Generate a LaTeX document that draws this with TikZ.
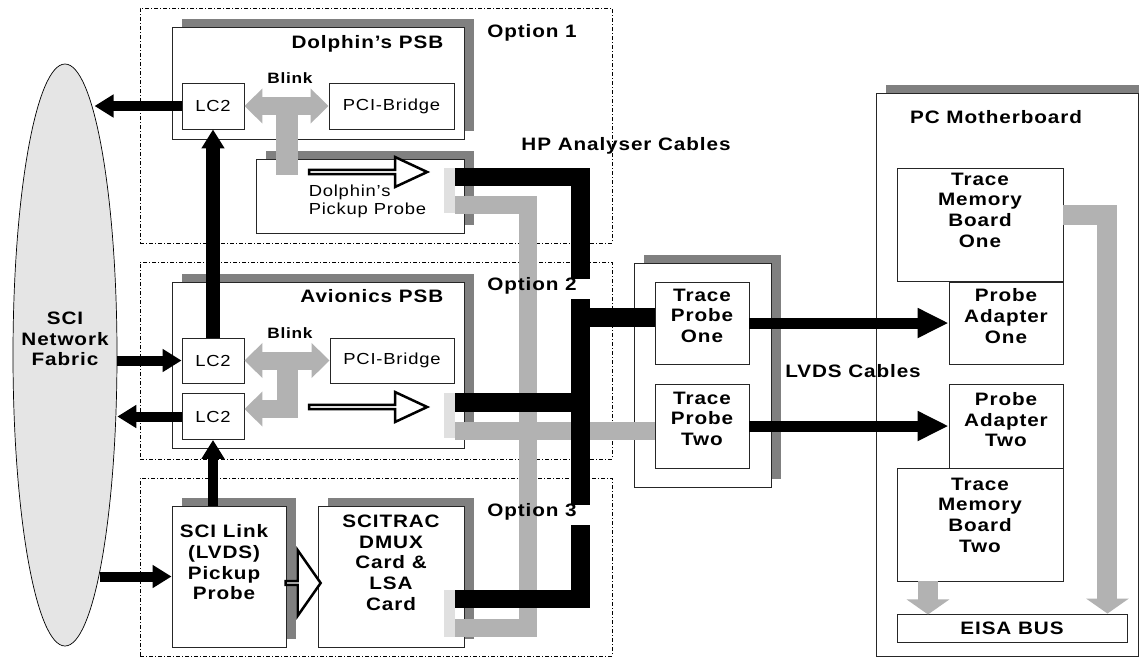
\documentclass[tikz,border=0pt]{standalone}
\usepackage{fontspec}
\setmainfont{Liberation Sans}[FakeStretch=1.15,LetterSpace=5]
\usepackage{tikz}
\usetikzlibrary{positioning,arrows.meta,shapes.geometric,shapes.arrows,shadows}

\begin{document}
\begin{tikzpicture}[
  x=1pt, y=-1pt,
  region/.style={draw, line width=0.7pt, dash pattern=on 4pt off 2pt on 1pt off 2pt, inner sep=0pt},
  board/.style={draw=black!85, fill=white, line width=0.9pt, inner sep=0pt,
    drop shadow={shadow xshift=10pt, shadow yshift=8pt, fill=black!50, opacity=1}},
  part/.style={draw=black!85, fill=white, line width=0.9pt, inner sep=0pt, font=\fontsize{16}{18}\selectfont},
  title/.style={inner sep=0pt, align=center, font=\fontsize{18}{20.7}\selectfont\bfseries},
  tag/.style={inner sep=0pt, font=\fontsize{15}{17}\selectfont\bfseries},
  plain/.style={inner sep=0pt, font=\fontsize{16}{18}\selectfont},
  stub/.style={fill=black!12, inner sep=0pt, minimum width=11pt},
  hollow/.style={single arrow, draw, fill=white, line width=2.5pt, inner sep=0pt},
  blink/.style={black!30, line width=18pt},
  blinktip/.tip={Triangle[length=18pt,width=34pt]},
  graycable/.style={black!30, line width=18pt, line join=miter},
  blackcable/.style={black, line width=18.5pt, line join=miter},
  fatarrow/.style={line width=10pt, -{Triangle[length=19pt,width=22pt]}},
  lvds/.style={line width=11pt, -{Triangle[length=31pt,width=28pt]}},
  pcarrow/.style={black!30, line width=20pt, line join=miter, -{Triangle[length=15pt,width=42pt]}},
]
\useasboundingbox (0,0) rectangle (1139,657);
% option regions
\node[region, minimum width=472pt, minimum height=235pt] (opt1) at (376,125.5) {};
\node[region, minimum width=472pt, minimum height=197pt] (opt2) at (376,360.5) {};
\node[region, minimum width=472pt, minimum height=178pt] (opt3) at (376,567) {};
% SCI network fabric
\node[ellipse, draw, fill=black!10, line width=0.7pt, inner sep=0pt,
  minimum width=104pt, minimum height=582pt] (sci) at (65,355) {};
\node[title] (scitext) at (65,339) {SCI\\Network\\Fabric};
% boards with shadow
\node[board, minimum width=292pt, minimum height=112pt] (dpsb) at (318,83) {};
\node[board, minimum width=208pt, minimum height=74pt] (dprobe) at (360,196) {};
\node[board, minimum width=292pt, minimum height=166pt] (apsb) at (318,365) {};
\node[board, minimum width=114pt, minimum height=141pt] (sciprobe) at (229,576.5) {};
\node[board, minimum width=146pt, minimum height=141pt] (scitrac) at (391,576.5) {};
\node[board, minimum width=137pt, minimum height=224pt] (tprobes) at (702.5,375) {};
\node[board, minimum width=262pt, minimum height=563pt] (pcmb) at (1007,374.5) {};
% parts
\node[part, minimum width=62pt, minimum height=46pt] (lc2d) at (213,106) {LC2};
\node[part, minimum width=125pt, minimum height=46pt] (pcid) at (391.5,106) {PCI-Bridge};
\node[part, minimum width=62pt, minimum height=45pt] (lc2a) at (213,360.5) {LC2};
\node[part, minimum width=62pt, minimum height=46pt] (lc2b) at (213,416.5) {LC2};
\node[part, minimum width=124pt, minimum height=45pt] (pcia) at (392,360.5) {PCI-Bridge};
\node[part, minimum width=94pt, minimum height=82pt] (tp1) at (702,323) {};
\node[part, minimum width=94pt, minimum height=84pt] (tp2) at (702,426) {};
\node[part, minimum width=166pt, minimum height=113pt] (tmb1) at (980,224.5) {};
\node[part, minimum width=114pt, minimum height=82pt] (pa1) at (1006,323) {};
\node[part, minimum width=114pt, minimum height=84pt] (pa2) at (1006,426) {};
\node[part, minimum width=166pt, minimum height=113pt] (tmb2) at (980,524.5) {};
\node[part, minimum width=230pt, minimum height=28pt,
  font=\fontsize{18}{20.7}\selectfont\bfseries] (eisa) at (1012,628) {EISA BUS};
% texts in the boxes
\node[title, below left=9pt and 21pt of dpsb.north east] (dpsbtitle) {Dolphin's PSB};
\node[title, below left=8pt and 21pt of apsb.north east] (apsbtitle) {Avionics PSB};
\node[title, below=19pt of sciprobe.north, xshift=-5pt] (sciprobetext) {SCI Link\\(LVDS)\\Pickup\\Probe};
\node[title, below=9pt of scitrac.north] (scitractext) {SCITRAC\\DMUX\\Card \&\\LSA\\Card};
\node[title, below=7pt of tp1.north] (tp1text) {Trace\\Probe\\One};
\node[title, below=8pt of tp2.north] (tp2text) {Trace\\Probe\\Two};
\node[title, below=5pt of tmb1.north] (tmb1text) {Trace\\Memory\\Board\\One};
\node[title, below=7pt of pa1.north] (pa1text) {Probe\\Adapter\\One};
\node[title, below=8.5pt of pa2.north] (pa2text) {Probe\\Adapter\\Two};
\node[title, below=10pt of tmb2.north] (tmb2text) {Trace\\Memory\\Board\\Two};
\node[title] (pcmbtitle) at (996,117) {PC Motherboard};
% blink buses
\coordinate (blinkdstem) at (287,106);
\coordinate (blinkdfoot) at (287,175);
\draw[blink, line width=22pt] (blinkdstem) -- (blinkdfoot);
\draw[blink, blinktip-blinktip] (lc2d.east) -- (pcid.west);
\node[tag] (blinkd) at (290,78) {Blink};
\coordinate (blinkastem) at (287,360.5);
\coordinate (blinkafoot) at (287,418);
\coordinate (blinkaturn) at (296,409);
\draw[blink, line width=21pt] (blinkastem) -- (blinkafoot);
\draw[blink, blinktip-blinktip] (lc2a.east) -- (pcia.west);
\draw[blink, -blinktip] (blinkaturn) -- (blinkaturn -| lc2b.east);
\node[tag] (blinka) at (290,333) {Blink};
% hollow arrows
\node[hollow, minimum height=118pt, minimum width=30pt, single arrow head extend=8pt,
  single arrow tip angle=50] (dprobearrow) at (366,172) {};
\node[hollow, minimum height=118pt, minimum width=30pt, single arrow head extend=8pt,
  single arrow tip angle=50] (aprobearrow) at (366,407) {};
\node[hollow, minimum height=35pt, minimum width=66pt, single arrow head extend=20.5pt,
  single arrow tip angle=110] (scilinkarrow) at (302.5,583) {};
\node[plain, align=left, below right=26pt and 53pt of dprobe.north west] (dprobetext) {Dolphin's\\Pickup Probe};
% connector stubs
\node[stub, minimum height=45pt] (stubd) at (449.5,190.5) {};
\node[stub, minimum height=45pt] (stuba) at (449.5,415.5) {};
\node[stub, minimum height=47pt] (stubs) at (449.5,613.5) {};
% HP analyser cables
\coordinate (grayturn) at (527.5,627.5);
\draw[graycable] ([yshift=-14.5pt]stubd.east) -| (grayturn) -- ([yshift=-14pt]stubs.east);
\draw[graycable] ([yshift=-15.5pt]stuba.east) -- ([yshift=-5pt]tp2.west);
\coordinate (bustop) at (580.5,279);
\coordinate (busmid) at (580.5,299);
\coordinate (buslow) at (580.5,505);
\coordinate (busbot) at (580.5,525);
\coordinate (tapone) at (580.5,317.5);
\coordinate (taptwo) at (580.5,402.5);
\draw[blackcable] ([yshift=13.5pt]stubd.east) -| (bustop);
\draw[blackcable] (busmid) -- (buslow);
\draw[blackcable] (tapone) -- (tapone -| tp1.west);
\draw[blackcable] (taptwo -| stuba.east) -- (taptwo);
\draw[blackcable] (busbot) |- ([yshift=14.5pt]stubs.east);
% SCI links
\draw[fatarrow] (lc2d.west) -- (lc2d.west -| sci.83);
\draw[fatarrow, line width=14pt] (lc2a.north) -- (lc2d.south);
\draw[fatarrow] (sci.east |- lc2a.west) -- (lc2a.west);
\draw[fatarrow] (lc2b.west) -- (sci.east |- lc2b.west);
\draw[fatarrow] (sciprobe.north -| lc2b.south) -- (lc2b.south);
\draw[fatarrow] (sci.-81 |- sciprobe.west) -- (sciprobe.west);
% LVDS cables
\draw[lvds] (tp1.east) -- (pa1.west);
\draw[lvds] (tp2.east) -- (pa2.west);
% EISA bus
\draw[pcarrow] ([yshift=9.5pt]tmb1.east) -| ([xshift=-20pt]eisa.north east);
\draw[pcarrow] ([xshift=-52pt]tmb2.south) -- +(0,33);
% labels
\node[title] (opt1label) at (532,33) {Option 1};
\node[title] (opt2label) at (532,286) {Option 2};
\node[title] (opt3label) at (532,512) {Option 3};
\node[title] (hplabel) at (626,146) {HP Analyser Cables};
\node[title] (lvdslabel) at (853,371) {LVDS Cables};
\end{tikzpicture}
\end{document}
